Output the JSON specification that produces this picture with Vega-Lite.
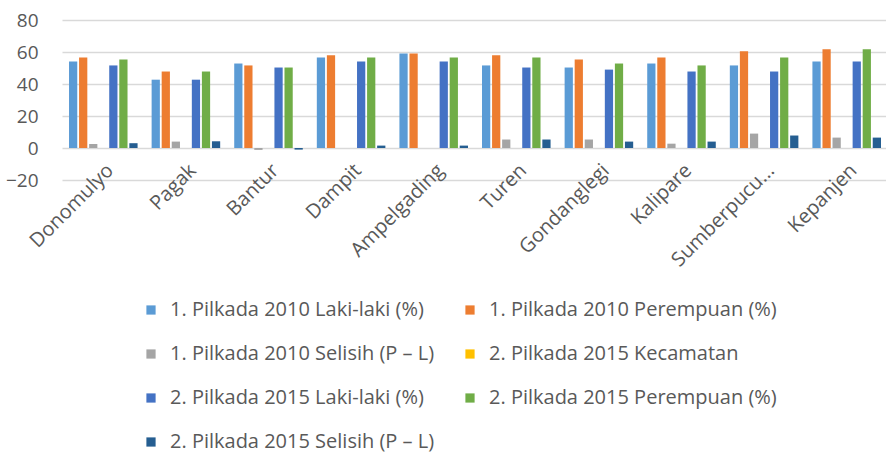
{
  "$schema": "https://vega.github.io/schema/vega-lite/v6.json",
  "width": 826,
  "height": 160,
  "autosize": {"type": "none"},
  "padding": {"left": 62, "top": 20, "right": 0, "bottom": 277},
  "background": "white",
  "config": {
    "font": "Open Sans",
    "view": {"stroke": null}
  },
  "data": {
    "values": [
      {"kec": "Donomulyo", "s": "1. Pilkada 2010 Laki-laki (%)", "v": 54.1},
      {"kec": "Donomulyo", "s": "1. Pilkada 2010 Perempuan (%)", "v": 56.6},
      {"kec": "Donomulyo", "s": "1. Pilkada 2010 Selisih (P – L)", "v": 2.5},
      {"kec": "Donomulyo", "s": "2. Pilkada 2015 Laki-laki (%)", "v": 51.6},
      {"kec": "Donomulyo", "s": "2. Pilkada 2015 Perempuan (%)", "v": 55.3},
      {"kec": "Donomulyo", "s": "2. Pilkada 2015 Selisih (P – L)", "v": 3.0},
      {"kec": "Pagak", "s": "1. Pilkada 2010 Laki-laki (%)", "v": 42.7},
      {"kec": "Pagak", "s": "1. Pilkada 2010 Perempuan (%)", "v": 47.8},
      {"kec": "Pagak", "s": "1. Pilkada 2010 Selisih (P – L)", "v": 4.0},
      {"kec": "Pagak", "s": "2. Pilkada 2015 Laki-laki (%)", "v": 42.7},
      {"kec": "Pagak", "s": "2. Pilkada 2015 Perempuan (%)", "v": 47.8},
      {"kec": "Pagak", "s": "2. Pilkada 2015 Selisih (P – L)", "v": 4.2},
      {"kec": "Bantur", "s": "1. Pilkada 2010 Laki-laki (%)", "v": 52.8},
      {"kec": "Bantur", "s": "1. Pilkada 2010 Perempuan (%)", "v": 51.6},
      {"kec": "Bantur", "s": "1. Pilkada 2010 Selisih (P – L)", "v": -1.2},
      {"kec": "Bantur", "s": "2. Pilkada 2015 Laki-laki (%)", "v": 50.3},
      {"kec": "Bantur", "s": "2. Pilkada 2015 Perempuan (%)", "v": 50.3},
      {"kec": "Bantur", "s": "2. Pilkada 2015 Selisih (P – L)", "v": -1.0},
      {"kec": "Dampit", "s": "1. Pilkada 2010 Laki-laki (%)", "v": 56.6},
      {"kec": "Dampit", "s": "1. Pilkada 2010 Perempuan (%)", "v": 57.9},
      {"kec": "Dampit", "s": "2. Pilkada 2015 Laki-laki (%)", "v": 54.1},
      {"kec": "Dampit", "s": "2. Pilkada 2015 Perempuan (%)", "v": 56.6},
      {"kec": "Dampit", "s": "2. Pilkada 2015 Selisih (P – L)", "v": 1.5},
      {"kec": "Ampelgading", "s": "1. Pilkada 2010 Laki-laki (%)", "v": 59.1},
      {"kec": "Ampelgading", "s": "1. Pilkada 2010 Perempuan (%)", "v": 59.1},
      {"kec": "Ampelgading", "s": "2. Pilkada 2015 Laki-laki (%)", "v": 54.1},
      {"kec": "Ampelgading", "s": "2. Pilkada 2015 Perempuan (%)", "v": 56.6},
      {"kec": "Ampelgading", "s": "2. Pilkada 2015 Selisih (P – L)", "v": 1.5},
      {"kec": "Turen", "s": "1. Pilkada 2010 Laki-laki (%)", "v": 51.6},
      {"kec": "Turen", "s": "1. Pilkada 2010 Perempuan (%)", "v": 57.9},
      {"kec": "Turen", "s": "1. Pilkada 2010 Selisih (P – L)", "v": 5.3},
      {"kec": "Turen", "s": "2. Pilkada 2015 Laki-laki (%)", "v": 50.3},
      {"kec": "Turen", "s": "2. Pilkada 2015 Perempuan (%)", "v": 56.6},
      {"kec": "Turen", "s": "2. Pilkada 2015 Selisih (P – L)", "v": 5.3},
      {"kec": "Gondanglegi", "s": "1. Pilkada 2010 Laki-laki (%)", "v": 50.3},
      {"kec": "Gondanglegi", "s": "1. Pilkada 2010 Perempuan (%)", "v": 55.3},
      {"kec": "Gondanglegi", "s": "1. Pilkada 2010 Selisih (P – L)", "v": 5.3},
      {"kec": "Gondanglegi", "s": "2. Pilkada 2015 Laki-laki (%)", "v": 49.0},
      {"kec": "Gondanglegi", "s": "2. Pilkada 2015 Perempuan (%)", "v": 52.8},
      {"kec": "Gondanglegi", "s": "2. Pilkada 2015 Selisih (P – L)", "v": 4.0},
      {"kec": "Kalipare", "s": "1. Pilkada 2010 Laki-laki (%)", "v": 52.8},
      {"kec": "Kalipare", "s": "1. Pilkada 2010 Perempuan (%)", "v": 56.6},
      {"kec": "Kalipare", "s": "1. Pilkada 2010 Selisih (P – L)", "v": 2.7},
      {"kec": "Kalipare", "s": "2. Pilkada 2015 Laki-laki (%)", "v": 47.8},
      {"kec": "Kalipare", "s": "2. Pilkada 2015 Perempuan (%)", "v": 51.6},
      {"kec": "Kalipare", "s": "2. Pilkada 2015 Selisih (P – L)", "v": 4.0},
      {"kec": "Sumberpucu...", "s": "1. Pilkada 2010 Laki-laki (%)", "v": 51.6},
      {"kec": "Sumberpucu...", "s": "1. Pilkada 2010 Perempuan (%)", "v": 60.4},
      {"kec": "Sumberpucu...", "s": "1. Pilkada 2010 Selisih (P – L)", "v": 9.0},
      {"kec": "Sumberpucu...", "s": "2. Pilkada 2015 Laki-laki (%)", "v": 47.8},
      {"kec": "Sumberpucu...", "s": "2. Pilkada 2015 Perempuan (%)", "v": 56.6},
      {"kec": "Sumberpucu...", "s": "2. Pilkada 2015 Selisih (P – L)", "v": 7.8},
      {"kec": "Kepanjen", "s": "1. Pilkada 2010 Laki-laki (%)", "v": 54.1},
      {"kec": "Kepanjen", "s": "1. Pilkada 2010 Perempuan (%)", "v": 61.7},
      {"kec": "Kepanjen", "s": "1. Pilkada 2010 Selisih (P – L)", "v": 6.5},
      {"kec": "Kepanjen", "s": "2. Pilkada 2015 Laki-laki (%)", "v": 54.1},
      {"kec": "Kepanjen", "s": "2. Pilkada 2015 Perempuan (%)", "v": 61.7},
      {"kec": "Kepanjen", "s": "2. Pilkada 2015 Selisih (P – L)", "v": 6.5}
    ]
  },
  "mark": {"type": "bar"},
  "encoding": {
    "x": {
      "field": "kec", "type": "nominal", "sort": null,
      "scale": {"paddingInner": 0.17, "paddingOuter": 0.085},
      "axis": {
        "title": null, "labelAngle": -45, "labelFontSize": 20, "labelColor": "#595959",
        "domain": false, "ticks": false, "labelPadding": -20, "labelLimit": 200
      }
    },
    "xOffset": {
      "field": "s", "type": "nominal",
      "scale": {
        "domain": ["1. Pilkada 2010 Laki-laki (%)", "1. Pilkada 2010 Perempuan (%)", "1. Pilkada 2010 Selisih (P – L)", "2. Pilkada 2015 Kecamatan", "2. Pilkada 2015 Laki-laki (%)", "2. Pilkada 2015 Perempuan (%)", "2. Pilkada 2015 Selisih (P – L)"],
        "paddingInner": 0.18, "paddingOuter": 0
      }
    },
    "y": {
      "field": "v", "type": "quantitative",
      "scale": {"domain": [-20, 80], "nice": false},
      "axis": {
        "title": null, "values": [-20, 0, 20, 40, 60, 80], "labelFontSize": 19, "labelColor": "#595959",
        "domain": false, "ticks": false, "labelPadding": 24, "gridColor": "#d9d9d9", "gridWidth": 1.5
      }
    },
    "color": {
      "field": "s", "type": "nominal",
      "scale": {
        "domain": ["1. Pilkada 2010 Laki-laki (%)", "1. Pilkada 2010 Perempuan (%)", "1. Pilkada 2010 Selisih (P – L)", "2. Pilkada 2015 Kecamatan", "2. Pilkada 2015 Laki-laki (%)", "2. Pilkada 2015 Perempuan (%)", "2. Pilkada 2015 Selisih (P – L)"],
        "range": ["#5B9BD5", "#ED7D31", "#A5A5A5", "#FFC000", "#4472C4", "#70AD47", "#255E91"]
      },
      "legend": {
        "title": null, "orient": "none", "legendX": 79, "legendY": 280,
        "direction": "horizontal", "columns": 2, "columnPadding": 25, "rowPadding": 24,
        "symbolType": "square", "symbolSize": 85, "symbolStrokeWidth": 0,
        "labelFontSize": 20, "labelColor": "#595959", "labelOffset": 9, "labelLimit": 400
      }
    }
  }
}
